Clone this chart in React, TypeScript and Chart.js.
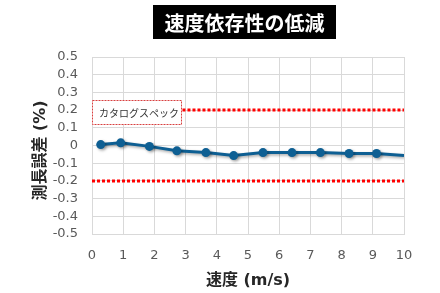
import React, { useEffect, useRef } from "react";
import { Chart, registerables } from "chart.js";

Chart.register(...registerables);

const chartTitle = "速度依存性の低減";
const xAxisTitle = "速度 (m/s)";
const yAxisTitle = "測長誤差 (%)";
const specLabel = "カタログスペック";

const speeds = [0.28, 0.92, 1.84, 2.72, 3.65, 4.54, 5.48, 6.41, 7.32, 8.24, 9.12, 10];
const errors = [0.005, 0.015, -0.005, -0.03, -0.04, -0.057, -0.04, -0.04, -0.04, -0.045, -0.045, -0.056];
const markerShown = [true, true, true, true, true, true, true, true, true, true, true, false];

const specUpper = 0.2;
const specLower = -0.2;
const specUpperStart = 2.9;
const xMin = 0;
const xMax = 10;

const xTicks = [0, 1, 2, 3, 4, 5, 6, 7, 8, 9, 10];
const yTicks = [0.5, 0.4, 0.3, 0.2, 0.1, 0, -0.1, -0.2, -0.3, -0.4, -0.5];
const yTickLabels = ["0.5", "0.4", "0.3", "0.2", "0.1", "0", "-0.1", "-0.2", "-0.3", "-0.4", "-0.5"];

const specBoxX = [0, 2.9];
const specBoxY = [0.256, 0.12];

const LINE_COLOR = "#0e5f93";
const RED = "#ff0000";
const TICK_FONT = "'DejaVu Sans', 'Noto Sans CJK JP', sans-serif";
const CJK_FONT = "'DejaVu Sans', 'Noto Sans CJK JP', sans-serif";

const decorPlugin = {
  id: "decor",
  beforeDatasetsDraw(chart: any) {
    const { ctx, scales } = chart;
    const xs = scales.x;
    const ys = scales.y;
    const x0 = xs.getPixelForValue(specBoxX[0]);
    const x1 = xs.getPixelForValue(specBoxX[1]);
    const y0 = ys.getPixelForValue(specBoxY[0]);
    const y1 = ys.getPixelForValue(specBoxY[1]);
    ctx.save();
    ctx.fillStyle = "#ffffff";
    ctx.fillRect(x0, y0, x1 - x0, y1 - y0);
    ctx.strokeStyle = "#d84040";
    ctx.lineWidth = 1;
    ctx.setLineDash([2, 1]);
    ctx.strokeRect(Math.round(x0) + 0.5, Math.round(y0) + 0.5, Math.round(x1 - x0) - 1, Math.round(y1 - y0));
    ctx.setLineDash([]);
    ctx.fillStyle = "#333333";
    ctx.font = "10px 'Noto Sans CJK JP', sans-serif";
    ctx.textAlign = "left";
    ctx.textBaseline = "middle";
    ctx.fillText(specLabel, x0 + 7, (y0 + y1) / 2 + 1);
    ctx.restore();
  },
  beforeDatasetDraw(chart: any, args: any) {
    if (args.index === 0) {
      const ctx = chart.ctx;
      ctx.save();
      ctx.shadowColor = "rgba(0,0,0,0.35)";
      ctx.shadowBlur = 3;
      ctx.shadowOffsetX = 1.5;
      ctx.shadowOffsetY = 1.5;
    }
  },
  afterDatasetDraw(chart: any, args: any) {
    if (args.index === 0) chart.ctx.restore();
  },
  afterDraw(chart: any) {
    const { ctx, chartArea } = chart;
    ctx.save();
    ctx.fillStyle = "#000000";
    ctx.fillRect(153, 5, 183, 34);
    ctx.fillStyle = "#ffffff";
    ctx.font = "bold 20px 'Noto Sans CJK JP', sans-serif";
    ctx.textAlign = "center";
    ctx.textBaseline = "middle";
    ctx.fillText(chartTitle, 244.5, 23);
    ctx.fillStyle = "#262626";
    ctx.font = "bold 16px " + CJK_FONT;
    ctx.fillText(xAxisTitle, (chartArea.left + chartArea.right) / 2, 281);
    ctx.translate(41, (chartArea.top + chartArea.bottom) / 2 + 5);
    ctx.rotate(-Math.PI / 2);
    ctx.fillText(yAxisTitle, 0, 0);
    ctx.restore();
  },
};

export default function App() {
  const canvasRef = useRef<HTMLCanvasElement>(null);

  useEffect(() => {
    const canvas = canvasRef.current;
    if (!canvas) return;
    const chart = new Chart(canvas, {
      type: "scatter",
      data: {
        datasets: [
          {
            data: speeds.map((s, i) => ({ x: s, y: errors[i] })),
            showLine: true,
            borderColor: LINE_COLOR,
            backgroundColor: LINE_COLOR,
            borderWidth: 3,
            pointRadius: markerShown.map((m) => (m ? 4.5 : 0)),
            pointBorderWidth: 0,
            pointHoverRadius: 0,
            order: 0,
          },
          {
            data: [
              { x: specUpperStart, y: specUpper },
              { x: xMax, y: specUpper },
            ],
            showLine: true,
            borderColor: RED,
            borderWidth: 3,
            borderDash: [3, 2],
            pointRadius: 0,
            order: 1,
          },
          {
            data: [
              { x: xMin, y: specLower },
              { x: xMax, y: specLower },
            ],
            showLine: true,
            borderColor: RED,
            borderWidth: 3,
            borderDash: [3, 2],
            pointRadius: 0,
            order: 1,
          },
        ],
      },
      options: {
        animation: false,
        responsive: false,
        devicePixelRatio: 1,
        layout: { padding: { top: 57, right: 36, left: 0, bottom: 0 } },
        plugins: {
          legend: { display: false },
          tooltip: { enabled: false },
          title: { display: false },
        },
        scales: {
          x: {
            type: "linear",
            min: xMin,
            max: xMax,
            afterBuildTicks: (scale: any) => {
              scale.ticks = xTicks.map((v) => ({ value: v }));
            },
            afterFit: (scale: any) => {
              scale.height = 59;
            },
            grid: { color: "#d9d9d9", drawTicks: false, lineWidth: 1 },
            border: { color: "#d9d9d9" },
            ticks: {
              padding: 14,
              color: "#595959",
              font: { family: TICK_FONT, size: 13 },
              maxRotation: 0,
              autoSkip: false,
            },
          },
          y: {
            type: "linear",
            min: -0.5,
            max: 0.5,
            afterBuildTicks: (scale: any) => {
              scale.ticks = yTicks.map((v) => ({ value: v }));
            },
            afterFit: (scale: any) => {
              scale.width = 92;
            },
            grid: { color: "#d9d9d9", drawTicks: false, lineWidth: 1 },
            border: { color: "#d9d9d9" },
            ticks: {
              padding: 14,
              color: "#595959",
              font: { family: TICK_FONT, size: 13 },
              autoSkip: false,
              callback: (_v: any, i: number) => yTickLabels[i],
            },
          },
        },
      },
      plugins: [decorPlugin],
    } as any);
    return () => chart.destroy();
  }, []);

  return (
    <div style={{ position: "fixed", left: 0, top: 0, width: 440, height: 293, background: "#fff" }}>
      <canvas ref={canvasRef} width={440} height={293} />
    </div>
  );
}
